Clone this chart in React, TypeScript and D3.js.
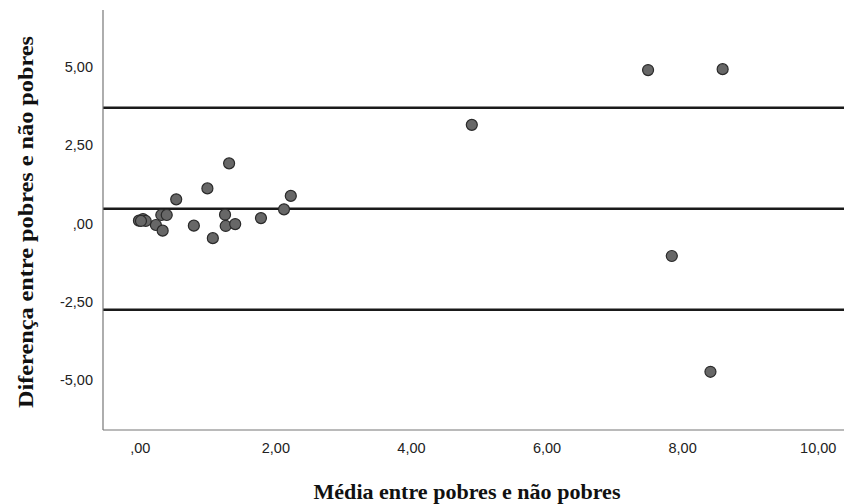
import React from 'react';
import * as d3 from 'd3';

// média (x) e diferença (y) entre pobres e não pobres
const meanValues = [
  4.89, 7.49, 8.59, 7.84, 8.41,
  1.31, 0.99, 0.53, 2.22, 2.12, 0.04, -0.02, 0.31, 0.39, 0.23,
  0.33, 0.79, 1.07, 1.25, 1.26, 1.40, 1.78, 0.08, 0.01,
];
const diffValues = [
  3.15, 4.90, 4.93, -1.04, -4.74,
  1.92, 1.12, 0.77, 0.88, 0.45, 0.14, 0.09, 0.27, 0.27, -0.05,
  -0.23, -0.07, -0.47, 0.28, -0.08, -0.02, 0.17, 0.08, 0.08,
];
// limite superior, média das diferenças, limite inferior
const refLines = [3.7, 0.47, -2.76];
const xTicks = [0, 2, 4, 6, 8, 10];
const yTicks = [5, 2.5, 0, -2.5, -5];

const width = 844;
const height = 504;
const left = 103;
const top = 10;
const bottom = 430;

// formato SPSS: vírgula decimal, sem zero à esquerda
const fmt = (v: number) => {
  const s = d3.format('.2f')(v).replace('.', ',').replace('\u2212', '-');
  return s.replace(/^(-?)0,/, '$1,');
};

const App = () => {
  const x = d3.scaleLinear().domain([-0.55, 10.38]).range([left, width]);
  const y = d3.scaleLinear().domain([-6.6, 6.82]).range([bottom, top]);

  const points = meanValues.map((m, i) => ({ m, d: diffValues[i] }));

  return (
    <svg width={width} height={height} style={{ position: 'absolute', left: 0, top: 0, background: '#fff' }}>
      {/* linhas de referência */}
      {refLines.map((v, i) => (
        <line key={i} x1={left} x2={width} y1={y(v)} y2={y(v)} stroke="#1a1a1a" strokeWidth={2.5} />
      ))}

      {/* eixos */}
      <line x1={left} x2={left} y1={top} y2={bottom} stroke="#777" strokeWidth={1.2} />
      <line x1={left} x2={width} y1={bottom} y2={bottom} stroke="#777" strokeWidth={1.2} />

      {/* pontos */}
      {points.map((p, i) => (
        <circle key={i} cx={x(p.m)} cy={y(p.d)} r={5.5} fill="#676767" stroke="#2a2a2a" strokeWidth={1.2} />
      ))}

      {yTicks.map((t) => (
        <text key={t} x={93} y={y(t)} dy="0.35em" textAnchor="end"
          fontFamily="Liberation Sans, Arial, sans-serif" fontSize={14.5} fill="#222">{fmt(t)}</text>
      ))}
      {xTicks.map((t) => (
        <text key={t} x={x(t)} y={448} dy="0.35em" textAnchor="middle"
          fontFamily="Liberation Sans, Arial, sans-serif" fontSize={14.5} fill="#222">{fmt(t)}</text>
      ))}

      <text x={467} y={491} dy="0.35em" textAnchor="middle" textLength={307} lengthAdjust="spacingAndGlyphs"
        fontFamily="Liberation Serif, serif" fontWeight="bold" fontSize={22} fill="#111">
        Média entre pobres e não pobres
      </text>
      <text transform={`translate(25,${222}) rotate(-90)`} dy="0.35em" textAnchor="middle"
        textLength={372} lengthAdjust="spacingAndGlyphs"
        fontFamily="Liberation Serif, serif" fontWeight="bold" fontSize={22} fill="#111">
        Diferença entre pobres e não pobres
      </text>
    </svg>
  );
};

export default App;
